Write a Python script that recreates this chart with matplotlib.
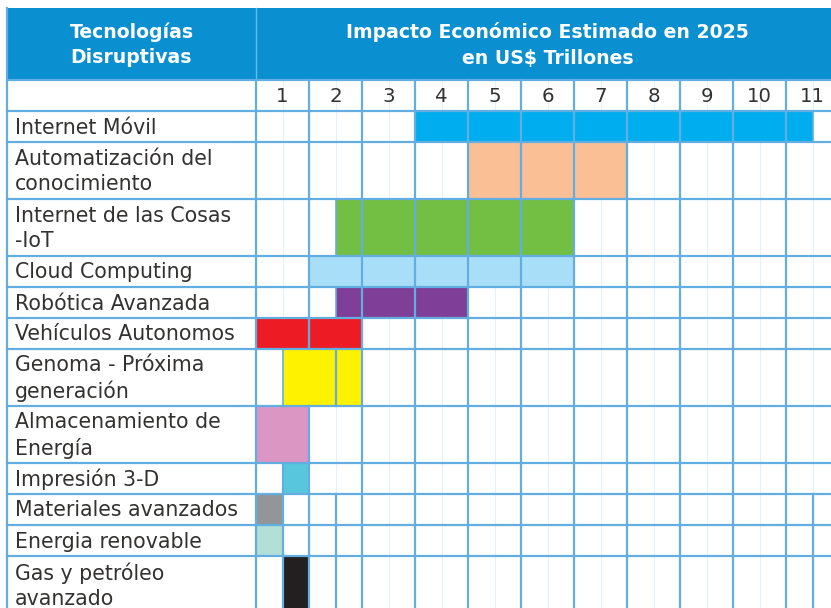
import matplotlib
matplotlib.use("Agg")
import matplotlib.pyplot as plt
from matplotlib.patches import Rectangle

# ---------------- data ----------------
technologies = [
    "Internet Móvil",
    "Automatización del\nconocimiento",
    "Internet de las Cosas\n-IoT",
    "Cloud Computing",
    "Robótica Avanzada",
    "Vehículos Autonomos",
    "Genoma - Próxima\ngeneración",
    "Almacenamiento de\nEnergía",
    "Impresión 3-D",
    "Materiales avanzados",
    "Energia renovable",
    "Gas y petróleo\navanzado",
]
# range of estimated impact, in column units (column k centred on k)
impact_start = [3.5, 4.5, 2.0, 1.5, 2.0, 0.5, 1.0, 0.5, 1.0, 0.5, 0.5, 1.0]
impact_end   = [11.0, 7.5, 6.5, 6.5, 4.5, 2.5, 2.5, 1.5, 1.5, 1.0, 1.0, 1.5]
bar_colors = ["#00AEEF", "#FBBF96", "#72BF44", "#A9DEF9", "#7F3F98", "#ED1C24",
              "#FFF200", "#DB96C4", "#58C6DC", "#939598", "#B2DFD6", "#231F20"]
tick_labels = [str(k) for k in range(1, 12)]
header_left = "Tecnologías\nDisruptivas"
header_right = "Impacto Económico Estimado en 2025\nen US$ Trillones"
# cells split in half (row index, x of the split)
split_cells = [(6, 2.0), (8, 1.0), (9, 1.0), (9, 2.0), (9, 11.0), (10, 1.0), (10, 2.0),
               (10, 11.0), (11, 1.0), (11, 2.0), (11, 11.0)]
# merged cells: column borders not drawn (row index, x of the border)
merged_cells = [(6, 1.5)]

# ---------------- layout ----------------
W, H = 831, 608
COLW = 53.0
X0PX = 256.0
LEFTPX = 7.0
TOP = 8.0
HEADER_H = 72.0
NUM_H = 31.0
ROW1, ROW2 = 31.0, 57.0

grid_c = "#62AEE0"
faint_c = "#E4F0FA"
text_c = "#333231"
header_c = "#0A8FD1"
FONT = ["DejaVu Sans"]

fig = plt.figure(figsize=(W / 100, H / 100), dpi=100)
ax = fig.add_axes([0, 0, 1, 1])
xmin = 0.5 - X0PX / COLW
xmax = 0.5 + (W - X0PX) / COLW
ax.set_xlim(xmin, xmax)
ax.set_ylim(H, 0)
ax.axis("off")
left = 0.5 - (X0PX - LEFTPX) / COLW

heights = [ROW2 if "\n" in t else ROW1 for t in technologies]
y_num = TOP + HEADER_H
tops = []
y = y_num + NUM_H
for h in heights:
    tops.append(y)
    y += h
bottom = y
centers = [t + h / 2 for t, h in zip(tops, heights)]

# header
ax.add_patch(Rectangle((left, TOP), xmax - left, HEADER_H, facecolor=header_c,
                       edgecolor="none", zorder=1))
ax.plot([0.5, 0.5], [TOP, y_num], color="#66BDE9", lw=1.0, zorder=2)
ax.text((left + 0.5) / 2, TOP + HEADER_H / 2 + 1, header_left, ha="center", va="center",
        color="white", fontsize=13.6, fontweight="bold", family=FONT, linespacing=1.42, zorder=3)
ax.text((0.5 + 11.5) / 2, TOP + HEADER_H / 2 + 1, header_right, ha="center", va="center",
        color="white", fontsize=13.6, fontweight="bold", family=FONT, linespacing=1.42, zorder=3)

# bars
ax.barh(centers, [e - s for s, e in zip(impact_start, impact_end)], left=impact_start,
        height=heights, color=bar_colors, edgecolor=grid_c, linewidth=1.2, zorder=2)

# faint half lines
for k in range(1, 12):
    ax.plot([k, k], [y_num, bottom], color=faint_c, lw=0.8, zorder=1.5)

# vertical grid lines (number row + each row, skipping merged borders)
for k in range(0, 12):
    xv = k + 0.5
    ax.plot([xv, xv], [y_num, y_num + NUM_H], color=grid_c, lw=1.6, zorder=4)
    for r, (t, h) in enumerate(zip(tops, heights)):
        if (r, xv) in merged_cells:
            continue
        ax.plot([xv, xv], [t, t + h], color=grid_c, lw=1.6, zorder=4)
ax.plot([left, left], [TOP, bottom], color=grid_c, lw=1.6, zorder=4)

for r, xs in split_cells:
    ax.plot([xs, xs], [tops[r], tops[r] + heights[r]], color=grid_c, lw=1.6, zorder=4)

for yy in [y_num, y_num + NUM_H] + [t + h for t, h in zip(tops, heights)]:
    ax.plot([left, xmax], [yy, yy], color=grid_c, lw=1.6, zorder=4)

for k, lab in enumerate(tick_labels, start=1):
    ax.text(k, y_num + NUM_H / 2 + 1, lab, ha="center", va="center", color=text_c,
            fontsize=14.2, family=FONT, zorder=5)

lx = left + 8 / COLW
for c, t in zip(centers, technologies):
    ax.text(lx, c + 1, t, ha="left", va="center", color=text_c, fontsize=14.8,
            family=FONT, linespacing=1.33, zorder=5)

fig.savefig("out.png", dpi=100)
